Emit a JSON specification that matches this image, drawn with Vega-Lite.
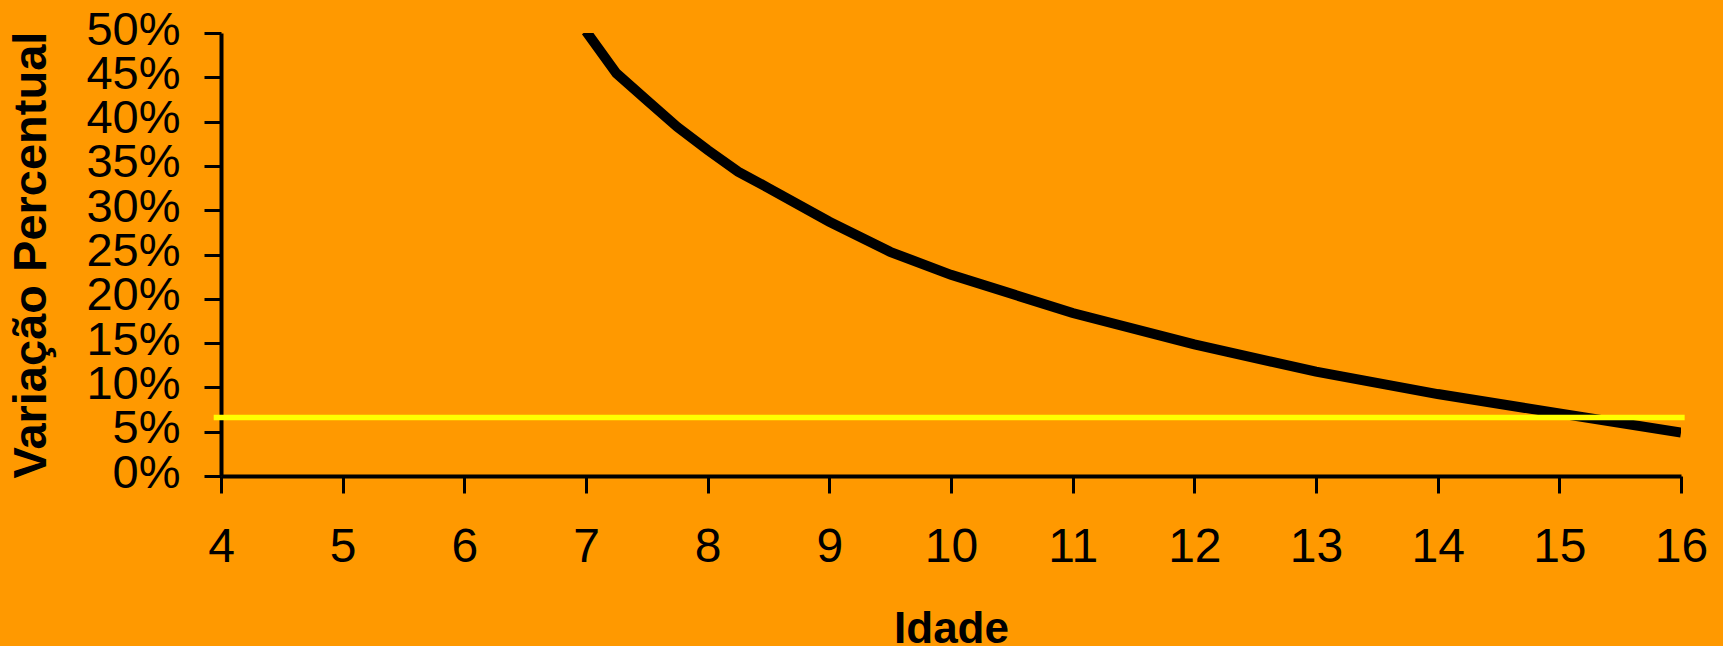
{
  "$schema": "https://vega.github.io/schema/vega-lite/v6.json",
  "width": 1460,
  "height": 443,
  "autosize": "none",
  "padding": {"left": 221, "top": 33, "right": 42, "bottom": 170},
  "background": "#FF9900",
  "config": {
    "view": {"stroke": null},
    "font": "Liberation Sans"
  },
  "datasets": {
    "curve": [
      {"idade": 7, "variacao": 0.502},
      {"idade": 7.25, "variacao": 0.4545},
      {"idade": 7.5, "variacao": 0.424},
      {"idade": 7.75, "variacao": 0.394},
      {"idade": 8, "variacao": 0.368},
      {"idade": 8.25, "variacao": 0.3435},
      {"idade": 8.5, "variacao": 0.325},
      {"idade": 9, "variacao": 0.287},
      {"idade": 9.5, "variacao": 0.253},
      {"idade": 10, "variacao": 0.227},
      {"idade": 11, "variacao": 0.184},
      {"idade": 12, "variacao": 0.1486},
      {"idade": 13, "variacao": 0.1177},
      {"idade": 14, "variacao": 0.0925},
      {"idade": 15, "variacao": 0.0707},
      {"idade": 16, "variacao": 0.0489}
    ],
    "ref": [
      {"inicio": 3.94, "fim": 16.03, "nivel": 0.066}
    ]
  },
  "layer": [
    {
      "data": {"name": "curve"},
      "mark": {"type": "line", "color": "#000000", "strokeWidth": 10, "strokeCap": "butt", "clip": true},
      "encoding": {
        "x": {
          "field": "idade", "type": "quantitative",
          "scale": {"domain": [4, 16], "nice": false, "zero": false},
          "axis": {
            "title": "Idade",
            "values": [4,5,6,7,8,9,10,11,12,13,14,15,16],
            "format": "d",
            "grid": false,
            "domainColor": "#000000", "domainWidth": 4,
            "tickColor": "#000000", "tickWidth": 3, "tickSize": 17,
            "labelFont": "Liberation Sans", "labelFontSize": 48, "labelColor": "#000000",
            "labelPadding": 30, "labelFlush": false, "labelOverlap": false, "labelBound": false,
            "titleFont": "Liberation Sans", "titleFontSize": 44, "titleFontWeight": "bold", "titleColor": "#000000",
            "titlePadding": 36
          }
        },
        "y": {
          "field": "variacao", "type": "quantitative",
          "scale": {"domain": [0, 0.5], "nice": false},
          "axis": {
            "title": "Variação Percentual",
            "values": [0,0.05,0.1,0.15,0.2,0.25,0.3,0.35,0.4,0.45,0.5],
            "format": ".0%",
            "grid": false,
            "domainColor": "#000000", "domainWidth": 4,
            "tickColor": "#000000", "tickWidth": 3, "tickSize": 17,
            "labelFont": "Liberation Sans", "labelFontSize": 47, "labelColor": "#000000",
            "labelPadding": 24, "labelFlush": false, "labelOverlap": false, "labelBound": false,
            "labelOffset": -3,
            "titleFont": "Liberation Sans", "titleFontSize": 47, "titleFontWeight": "bold", "titleColor": "#000000",
            "titlePadding": 30
          }
        }
      }
    },
    {
      "data": {"name": "ref"},
      "mark": {"type": "rule", "color": "#FFFF00", "strokeWidth": 5.5},
      "encoding": {
        "x": {"field": "inicio", "type": "quantitative"},
        "x2": {"field": "fim"},
        "y": {"field": "nivel", "type": "quantitative"}
      }
    }
  ]
}
